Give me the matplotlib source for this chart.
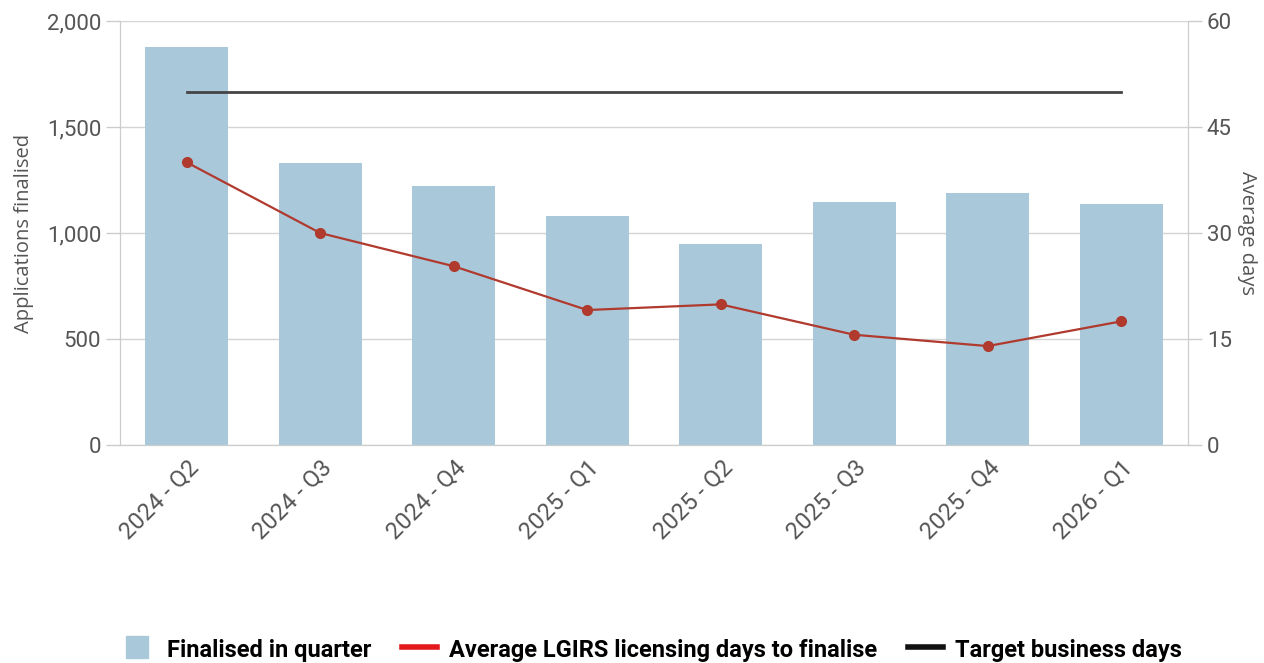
import numpy as np
import matplotlib.pyplot as plt
from matplotlib.lines import Line2D

quarters = ["2024 - Q2", "2024 - Q3", "2024 - Q4", "2025 - Q1",
            "2025 - Q2", "2025 - Q3", "2025 - Q4", "2026 - Q1"]
finalised = [1878, 1330, 1222, 1080, 948, 1146, 1189, 1137]
avg_days = [40.0, 30.0, 25.3, 19.1, 19.9, 15.6, 14.0, 17.5]
target_days = [50, 50, 50, 50, 50, 50, 50, 50]

plt.rcParams['font.family'] = ['Roboto', 'DejaVu Sans']

fig = plt.figure(figsize=(12.64, 6.63), dpi=100)
ax = fig.add_axes([0.0949, 0.3288, 0.8450, 0.6395])
ax2 = ax.twinx()

x = np.arange(len(quarters))
ax.bar(x, finalised, width=0.62, color="#a9c9da", zorder=2)
ax.set_ylim(0, 2000)
ax.set_xlim(-0.5, len(quarters) - 0.5)
ax.set_yticks([0, 500, 1000, 1500, 2000])
ax.set_yticklabels(["0", "500", "1,000", "1,500", "2,000"])
ax.grid(axis="y", color="#d4d4d4", lw=1, zorder=0)
ax.set_axisbelow(True)

ax2.plot(x, target_days, color="#444444", lw=2, zorder=3)
ax2.plot(x, avg_days, color="#b03a2e", lw=1.6, marker="o", ms=7, zorder=4)
ax2.set_ylim(0, 60)
ax2.set_yticks([0, 15, 30, 45, 60])

ax.set_zorder(1)
ax2.set_zorder(2)
ax.patch.set_visible(False)

for a in (ax, ax2):
    for s in a.spines.values():
        s.set_color("#cccccc")
    a.spines["top"].set_visible(False)
    a.tick_params(axis="y", colors="#cccccc", labelcolor="#555555",
                  labelsize=16, length=10, width=1)
ax.tick_params(axis="x", length=0, labelcolor="#555555", labelsize=17, pad=8)
ax.set_xticks(x)
ax.set_xticklabels(quarters, rotation=45, ha="right", rotation_mode="anchor")

ax.set_ylabel("Applications finalised", color="#555555", fontsize=14.5,
              family=["Open Sans", "DejaVu Sans"], labelpad=9)
ax2.set_ylabel("Average days", color="#555555", fontsize=14.5,
               family=["Open Sans", "DejaVu Sans"], rotation=270, labelpad=18)

handles = [
    Line2D([], [], marker="s", ms=16, color="#a9c9da", ls="none"),
    Line2D([0], [0], color="#e31a1c", lw=4),
    Line2D([0], [0], color="#111111", lw=4),
]
labels = ["Finalised in quarter", "Average LGIRS licensing days to finalise",
          "Target business days"]
fig.legend(handles, labels, loc="center", bbox_to_anchor=(0.515, 0.02),
           ncol=3, frameon=False, handlelength=1.5, handleheight=1.0,
           columnspacing=1.3, handletextpad=0.5,
           prop={"family": ["Roboto", "DejaVu Sans"],
                 "weight": "bold", "size": 17})

fig.savefig("out.png", dpi=100)
